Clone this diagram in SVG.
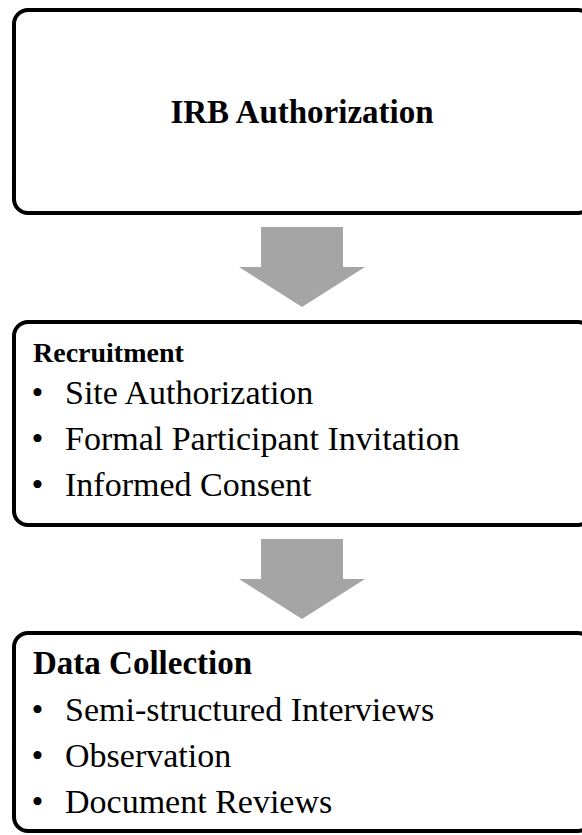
<svg xmlns="http://www.w3.org/2000/svg" width="582" height="835" viewBox="0 0 582 835">
<style>
.box{fill:#fff;stroke:#000;stroke-width:4}
.arr{fill:#a5a5a5}
.t{font-family:"Liberation Serif","Times New Roman",serif;fill:#000}
.h{font-weight:bold}
.it{font-size:34px}
</style>
<rect width="582" height="835" fill="#fff"/>
<g id="connectors">
<polygon class="arr" points="261,227 343,227 343,267 365,267 302,307 239,267 261,267"/>
<polygon class="arr" points="261,539 343,539 343,579 365,579 302,619 239,579 261,579"/>
</g>
<g id="irb">
<rect class="box" x="14" y="10" width="578" height="203" rx="14"/>
<text class="t h" x="302" y="123" font-size="33" text-anchor="middle">IRB Authorization</text>
</g>
<g id="recruitment">
<rect class="box" x="14" y="322" width="578" height="203" rx="14"/>
<text class="t h" x="33" y="362" font-size="28">Recruitment</text>
<text class="t it" x="31.5" y="404">•</text>
<text class="t it" x="65" y="404">Site Authorization</text>
<text class="t it" x="31.5" y="450">•</text>
<text class="t it" x="65" y="450">Formal Participant Invitation</text>
<text class="t it" x="31.5" y="496">•</text>
<text class="t it" x="65" y="496">Informed Consent</text>
</g>
<g id="data-collection">
<rect class="box" x="14" y="633" width="578" height="198" rx="14"/>
<text class="t h" x="33" y="674" font-size="33">Data Collection</text>
<text class="t it" x="31.5" y="721">•</text>
<text class="t it" x="65" y="721">Semi-structured Interviews</text>
<text class="t it" x="31.5" y="767">•</text>
<text class="t it" x="65" y="767">Observation</text>
<text class="t it" x="31.5" y="813">•</text>
<text class="t it" x="65" y="813">Document Reviews</text>
</g>
</svg>
